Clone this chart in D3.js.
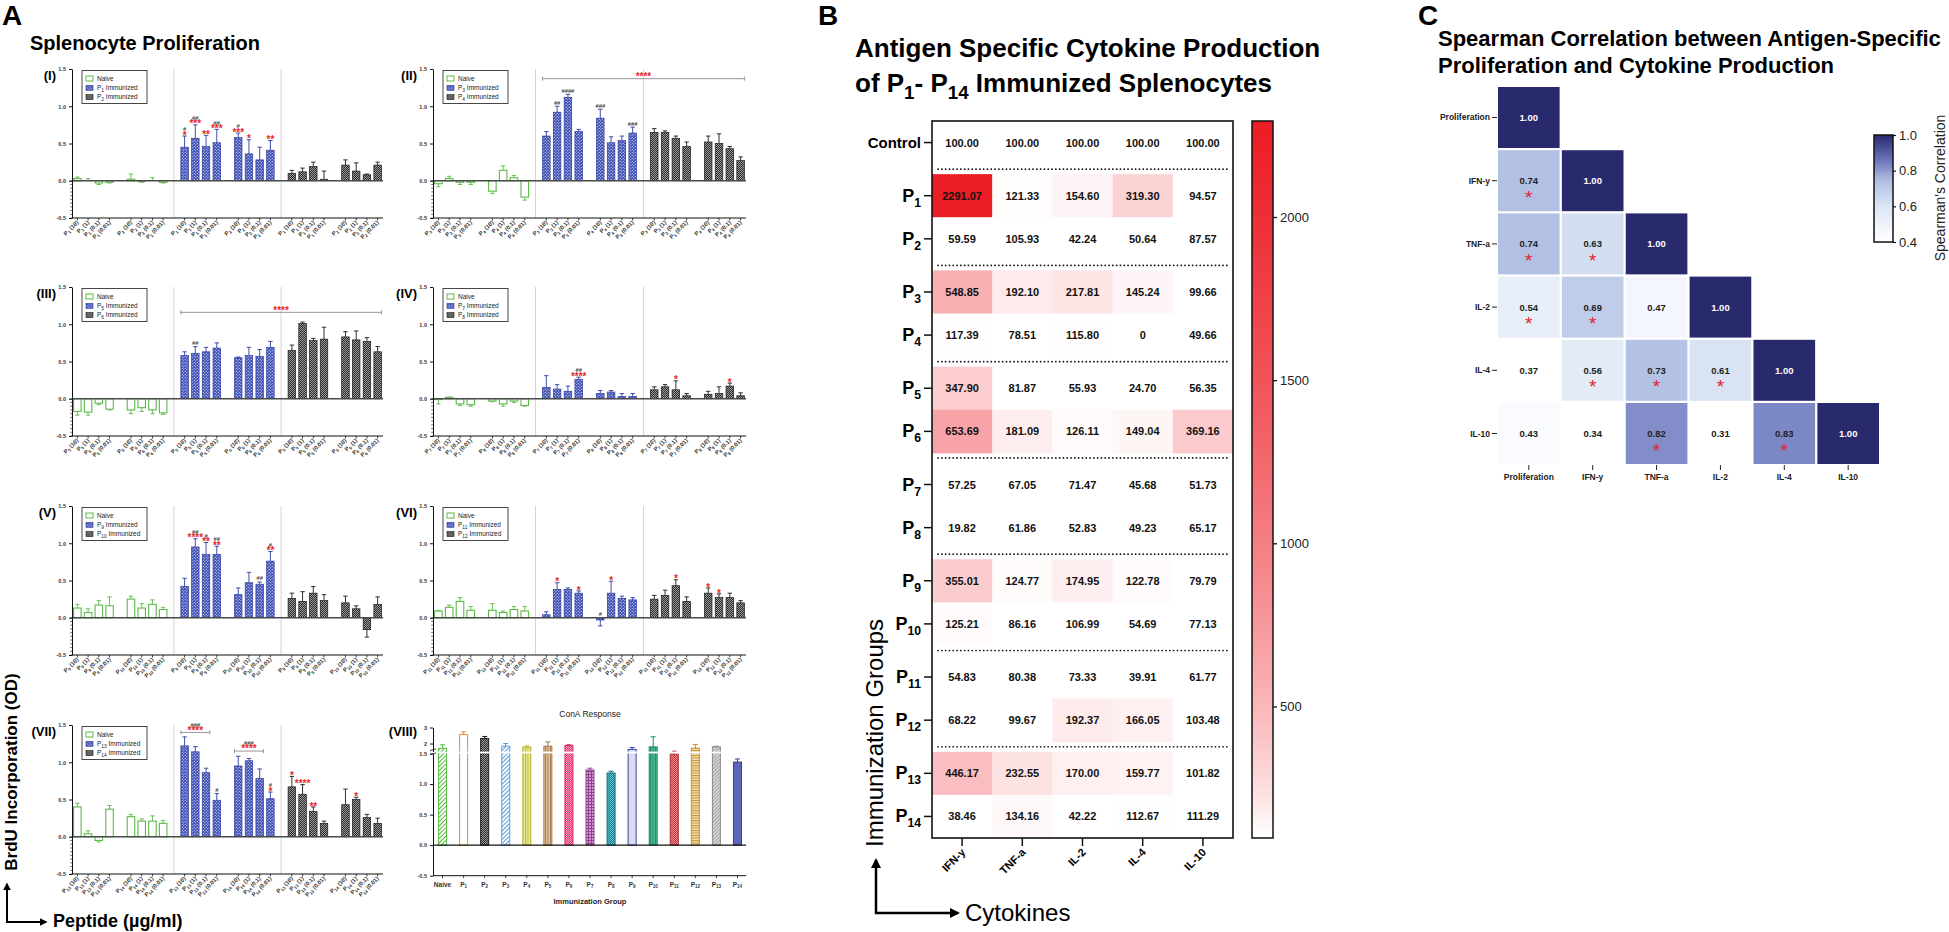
<!DOCTYPE html>
<html>
<head>
<meta charset="utf-8">
<script src="https://cdn.jsdelivr.net/npm/d3@7/dist/d3.min.js"></script>
<style>
html,body{margin:0;padding:0;background:#fff;}
svg{display:block;}
text{font-family:"Liberation Sans",Arial,Helvetica,sans-serif;}
</style>
</head>
<body>
<svg id="fig" width="1949" height="932" viewBox="0 0 1949 932"></svg>
<script>
// ======================= DATA =======================
// Panel A : splenocyte proliferation (BrdU OD). Each panel: 24 bars =
// [Naive: Pa(10,1,0.1,0.01), Pb(...)] [Pa immunized: ...] [Pb immunized: ...]
const dosesA = ["10", "1", "0.1", "0.01"];
const yTicksA = [1.5, 1.0, 0.5, 0.0, -0.5];
const numeralsA = ["(I)", "(II)", "(III)", "(IV)", "(V)", "(VI)", "(VII)", "(VIII)"];
const peptidePairs = [[1, 2], [3, 4], [5, 6], [7, 8], [9, 10], [11, 12], [13, 14]];

const meanI   = [0.03,0.00,-0.03,-0.02, 0.02,-0.01,0.00,-0.02, 0.45,0.57,0.46,0.51, 0.58,0.36,0.28,0.41, 0.10,0.12,0.19,0.02, 0.21,0.13,0.08,0.21];
const tipI    = [0.05,0.03,-0.05,-0.03, 0.09,-0.02,0.04,-0.03, 0.60,0.75,0.61,0.69, 0.64,0.55,0.45,0.54, 0.14,0.17,0.25,0.13, 0.28,0.24,0.09,0.25];
const meanII  = [-0.04,0.03,-0.02,-0.02, -0.14,0.14,0.04,-0.22, 0.60,0.92,1.12,0.66, 0.84,0.51,0.54,0.64, 0.65,0.65,0.57,0.46, 0.52,0.50,0.43,0.27];
const tipII   = [-0.08,0.06,-0.05,-0.05, -0.17,0.20,0.07,-0.26, 0.66,1.00,1.16,0.69, 0.96,0.59,0.60,0.72, 0.70,0.67,0.60,0.52, 0.60,0.63,0.46,0.32];
const meanIII = [-0.17,-0.18,-0.06,-0.14, -0.15,-0.12,-0.15,-0.19, 0.58,0.61,0.63,0.68, 0.55,0.58,0.57,0.69, 0.65,1.01,0.78,0.80, 0.83,0.79,0.77,0.63];
const tipIII  = [-0.22,-0.22,-0.08,-0.15, -0.20,-0.17,-0.20,-0.21, 0.63,0.70,0.69,0.75, 0.56,0.69,0.66,0.77, 0.72,1.03,0.81,0.96, 0.90,0.91,0.82,0.70];
const meanIV  = [-0.01,0.02,-0.07,-0.08, -0.03,-0.07,-0.03,-0.09, 0.15,0.13,0.10,0.26, 0.07,0.09,0.03,0.03, 0.12,0.16,0.12,0.04, 0.06,0.07,0.17,0.04];
const tipIV   = [-0.07,0.02,-0.09,-0.10, -0.04,-0.10,-0.05,-0.10, 0.31,0.19,0.17,0.29, 0.11,0.11,0.07,0.07, 0.16,0.19,0.24,0.07, 0.10,0.16,0.21,0.08];
const meanV   = [0.13,0.07,0.17,0.16, 0.25,0.13,0.18,0.11, 0.42,0.95,0.85,0.85, 0.31,0.47,0.45,0.76, 0.26,0.22,0.33,0.23, 0.20,0.12,-0.16,0.18];
const tipV    = [0.18,0.12,0.23,0.28, 0.29,0.19,0.24,0.14, 0.53,1.06,1.01,0.96, 0.40,0.61,0.48,0.89, 0.33,0.35,0.42,0.31, 0.29,0.16,-0.26,0.28];
const meanVI  = [0.09,0.14,0.22,0.10, 0.10,0.07,0.11,0.09, 0.04,0.38,0.38,0.33, -0.03,0.33,0.26,0.24, 0.25,0.30,0.43,0.22, 0.33,0.27,0.27,0.20];
const tipVI   = [0.10,0.17,0.27,0.15, 0.19,0.09,0.15,0.15, 0.08,0.47,0.40,0.36, -0.11,0.49,0.29,0.27, 0.30,0.37,0.51,0.28, 0.40,0.32,0.33,0.23];
const meanVII = [0.40,0.04,-0.05,0.37, 0.27,0.21,0.21,0.18, 1.22,1.14,0.86,0.49, 0.95,1.02,0.78,0.51, 0.67,0.57,0.34,0.18, 0.43,0.50,0.26,0.18];
const tipVII  = [0.45,0.08,-0.07,0.42, 0.30,0.24,0.28,0.22, 1.34,1.21,0.92,0.58, 1.08,1.05,0.91,0.60, 0.81,0.70,0.40,0.21, 0.64,0.53,0.30,0.25];

// significance marks: [bar index, "#" marks, "*" marks]
const annotI   = [[8,"#","*"],[9,"##","***"],[10,"","**"],[11,"##","***"],[12,"#","***"],[13,"","*"],[15,"","**"]];
const annotII  = [[9,"##",""],[10,"####",""],[12,"###",""],[15,"###",""]];
const annotIII = [[9,"##",""]];
const annotIV  = [[11,"##","****"],[18,"","*"],[22,"","*"]];
const annotV   = [[9,"##","****"],[10,"#","**"],[11,"##","**"],[14,"##",""],[15,"#","**"]];
const annotVI  = [[9,"","*"],[11,"","*"],[12,"#",""],[13,"","*"],[18,"","*"],[20,"","*"],[21,"","*"]];
const annotVII = [[11,"#",""],[15,"#","*"],[16,"","*"],[17,"","****"],[18,"","**"],[21,"","*"]];
// brackets: [from bar, to bar, y value, "#" marks, "*" marks]
const bracketsII  = [[8, 23, 1.37, "", "****"]];
const bracketsIII = [[8, 23, 1.16, "", "****"]];
const bracketsVII = [[8, 10, 1.40, "###", "****"], [12, 14, 1.15, "###", "****"]];

// Panel A (VIII): ConA response
const conaGroups = ["Naive","P1","P2","P3","P4","P5","P6","P7","P8","P9","P10","P11","P12","P13","P14"];
const conaMean = [1.70, 2.56, 2.31, 1.83, 1.77, 1.83, 1.88, 1.23, 1.18, 1.63, 1.79, 1.49, 1.71, 1.79, 1.36];
const conaTip  = [1.92, 2.73, 2.44, 2.00, 1.85, 2.10, 1.92, 1.26, 1.21, 1.75, 2.42, 1.52, 1.94, 1.83, 1.41];
const conaTicksLow = [-0.5, 0.0, 0.5, 1.0, 1.5];
const conaTicksHigh = [2, 3];

// Panel B : cytokine production heat map (% of control)
const cytokines = ["IFN-y", "TNF-a", "IL-2", "IL-4", "IL-10"];
const immGroups = ["Control","P1","P2","P3","P4","P5","P6","P7","P8","P9","P10","P11","P12","P13","P14"];
const ifnY = [100.00, 2291.07, 59.59, 548.85, 117.39, 347.90, 653.69, 57.25, 19.82, 355.01, 125.21, 54.83, 68.22, 446.17, 38.46];
const tnfA = [100.00, 121.33, 105.93, 192.10, 78.51, 81.87, 181.09, 67.05, 61.86, 124.77, 86.16, 80.38, 99.67, 232.55, 134.16];
const il2  = [100.00, 154.60, 42.24, 217.81, 115.80, 55.93, 126.11, 71.47, 52.83, 174.95, 106.99, 73.33, 192.37, 170.00, 42.22];
const il4  = [100.00, 319.30, 50.64, 145.24, 0, 24.70, 149.04, 45.68, 49.23, 122.78, 54.69, 39.91, 166.05, 159.77, 112.67];
const il10 = [100.00, 94.57, 87.57, 99.66, 49.66, 56.35, 369.16, 51.73, 65.17, 79.79, 77.13, 61.77, 103.48, 101.82, 111.29];
const heatTicks = [500, 1000, 1500, 2000];

// Panel C : Spearman correlation (lower triangle)
const corrVars = ["Proliferation", "IFN-y", "TNF-a", "IL-2", "IL-4", "IL-10"];
const corrProliferation = [1.00];
const corrIFNy  = [0.74, 1.00];
const corrTNFa  = [0.74, 0.63, 1.00];
const corrIL2   = [0.54, 0.69, 0.47, 1.00];
const corrIL4   = [0.37, 0.56, 0.73, 0.61, 1.00];
const corrIL10  = [0.43, 0.34, 0.82, 0.31, 0.83, 1.00];
const corrSignificant = [[1,0],[2,0],[2,1],[3,0],[3,1],[4,1],[4,2],[4,3],[5,2],[5,4]];
const corrTicks = [0.4, 0.6, 0.8, 1.0];

// ======================= DRAWING =======================
const svg = d3.select("#fig");
const defs = svg.append("defs");

function makePattern(id, w, h, bg, draw, transform) {
  const p = defs.append("pattern").attr("id", id).attr("patternUnits", "userSpaceOnUse")
    .attr("width", w).attr("height", h);
  if (transform) p.attr("patternTransform", transform);
  p.append("rect").attr("width", w).attr("height", h).attr("fill", bg);
  if (draw) draw(p);
}
function dots(p, col, r) {
  p.append("circle").attr("cx", 0.75).attr("cy", 0.75).attr("r", r).attr("fill", col);
  p.append("circle").attr("cx", 2.25).attr("cy", 2.25).attr("r", r).attr("fill", col);
}
function checker(id, bg, fg) {
  makePattern(id, 2, 2, bg, p => {
    p.append("rect").attr("width", 1).attr("height", 1).attr("fill", fg);
    p.append("rect").attr("x", 1).attr("y", 1).attr("width", 1).attr("height", 1).attr("fill", fg);
  });
}
function hatch(id, bg, fg, size, angle, sw) {
  makePattern(id, size, size, bg, p => {
    p.append("line").attr("x1", 0.5).attr("y1", 0).attr("x2", 0.5).attr("y2", size)
      .attr("stroke", fg).attr("stroke-width", sw);
  }, `rotate(${angle})`);
}
makePattern("dotBlue", 3, 3, "#3a4cb2", p => dots(p, "#ffffff", 0.62));
checker("checkGray", "#2a2a2a", "#9c9c9c");
hatch("hGreen", "#ffffff", "#5cb947", 3, 45, 1.1);
hatch("hBlue", "#ffffff", "#5aa0dc", 3, 45, 1.1);
hatch("vYellow", "#eeec9e", "#b9b52c", 2.5, 0, 1);
hatch("vTan", "#e0c8a4", "#a37a4c", 2.5, 0, 1);
checker("ckPink", "#e5336d", "#f6a2bf");
makePattern("gridPurple", 3, 3, "#cf9ccf", p => {
  p.append("path").attr("d", "M0,0.5H3M0.5,0V3").attr("stroke", "#8f3f8f").attr("stroke-width", 1);
});
checker("ckTeal", "#157f8f", "#66c3cf");
hatch("vGreen", "#4cbd98", "#1e8c68", 2.5, 0, 1);
checker("ckRed", "#c4323c", "#ef9090");
hatch("hTan", "#f4e0b6", "#c98f2c", 2.5, 90, 1);
hatch("hGray", "#dadada", "#a0a0a0", 2.5, 45, 1);

function rich(t, str, subScale, shiftPx) {
  const fs = parseFloat(t.attr("font-size"));
  const parts = str.split(/_\{([^}]*)\}/);
  let cur = 0;
  parts.forEach((s, i) => {
    if (s === "") return;
    const isSub = i % 2 === 1;
    const target = isSub ? shiftPx : 0;
    const ts = t.append("tspan").text(s);
    if (target - cur !== 0) ts.attr("dy", target - cur);
    cur = target;
    if (isSub) ts.attr("font-size", fs * subScale);
  });
  return t;
}
function txt(parent, x, y, s, size, opts = {}) {
  const t = parent.append("text").attr("x", x).attr("y", y).attr("font-size", size)
    .attr("font-weight", opts.bold ? "bold" : "normal").attr("fill", opts.fill || "#000")
    .attr("text-anchor", opts.anchor || "start");
  if (opts.transform) t.attr("transform", opts.transform);
  if (opts.sub) rich(t, s, opts.subScale || 0.7, opts.shift || size * 0.3);
  else t.text(s);
  return t;
}

defs.append("marker").attr("id", "arrowHead").attr("viewBox", "0 0 10 10").attr("refX", 8).attr("refY", 5)
  .attr("markerWidth", 4).attr("markerHeight", 4).attr("orient", "auto")
  .append("path").attr("d", "M0,0L10,5L0,10Z").attr("fill", "#000");

// ================= PANEL A =================
txt(svg, 2, 25, "A", 28, { bold: true });
txt(svg, 30, 50, "Splenocyte Proliferation", 20, { bold: true });

const rowTops = [69, 287, 506, 725];
const colSpan = [[72, 383], [433, 746]];
const plotH = 149;
const barStyle = [
  { fill: "#ffffff", stroke: "#5cb947", sw: 1.1, err: "#5cb947" },
  { fill: "url(#dotBlue)", stroke: "#2b3b9e", sw: 0.7, err: "#2b3b9e" },
  { fill: "url(#checkGray)", stroke: "#1a1a1a", sw: 0.7, err: "#1a1a1a" }
];

const panelsA = [
  { mean: meanI, tip: tipI, annot: annotI, br: [] },
  { mean: meanII, tip: tipII, annot: annotII, br: bracketsII },
  { mean: meanIII, tip: tipIII, annot: annotIII, br: bracketsIII },
  { mean: meanIV, tip: tipIV, annot: annotIV, br: [] },
  { mean: meanV, tip: tipV, annot: annotV, br: [] },
  { mean: meanVI, tip: tipVI, annot: annotVI, br: [] },
  { mean: meanVII, tip: tipVII, annot: annotVII, br: bracketsVII }
];

function styleAxis(ax, size) {
  ax.attr("font-family", null).attr("font-size", null);
  ax.selectAll("text").attr("font-size", size).attr("font-weight", "bold").attr("fill", "#333");
  ax.selectAll("line").attr("stroke", "#111");
  ax.select(".domain").attr("stroke", "#111");
}

panelsA.forEach((P, k) => {
  const row = Math.floor(k / 2), col = k % 2;
  const top = rowTops[row], bottom = top + plotH;
  const [x0, x1] = colSpan[col];
  const peps = peptidePairs[k];
  const g = svg.append("g");
  const x = d3.scaleBand().domain(d3.range(29)).range([x0, x1]).paddingInner(0.3).paddingOuter(0.15);
  const y = d3.scaleLinear().domain([-0.5, 1.5]).range([bottom, top]);
  const slot = i => Math.floor(i / 8) * 10 + (i % 8 < 4 ? i % 8 : i % 8 + 1);
  const cx = i => x(slot(i)) + x.bandwidth() / 2;
  const step = x.step();

  [9, 19].forEach(s => g.append("line").attr("x1", x(s) + x.bandwidth() / 2).attr("x2", x(s) + x.bandwidth() / 2)
    .attr("y1", top).attr("y2", bottom).attr("stroke", "#d4d4d4").attr("stroke-width", 1));

  const bars = d3.range(24).map(i => ({ i, g: Math.floor(i / 8), v: P.mean[i], t: P.tip[i] }));
  g.selectAll("path.err").data(bars).join("path").attr("class", "err")
    .attr("d", d => { const c = cx(d.i), ya = y(d.v), yb = y(d.t); return `M${c},${ya}V${yb}M${c - 2.2},${yb}H${c + 2.2}`; })
    .attr("stroke", d => barStyle[d.g].err).attr("stroke-width", 0.9).attr("fill", "none");
  g.selectAll("rect.bar").data(bars).join("rect").attr("class", "bar")
    .attr("x", d => x(slot(d.i))).attr("width", x.bandwidth())
    .attr("y", d => Math.min(y(d.v), y(0))).attr("height", d => Math.abs(y(d.v) - y(0)))
    .attr("fill", d => barStyle[d.g].fill).attr("stroke", d => barStyle[d.g].stroke)
    .attr("stroke-width", d => barStyle[d.g].sw);

  g.append("line").attr("x1", x0).attr("x2", x1).attr("y1", y(0)).attr("y2", y(0))
    .attr("stroke", "#4a4a4a").attr("stroke-width", 1.3);

  const ax = g.append("g").attr("transform", `translate(${x0},0)`)
    .call(d3.axisLeft(y).tickValues(yTicksA).tickSize(3).tickSizeOuter(0).tickFormat(v => v.toFixed(1)));
  styleAxis(ax, 5.5);
  d3.range(-0.5, 0.001, 0.05).forEach(v => g.append("line").attr("x1", x0 - 1.8).attr("x2", x0)
    .attr("y1", y(v)).attr("y2", y(v)).attr("stroke", "#111").attr("stroke-width", 0.6));

  g.append("line").attr("x1", x0).attr("x2", x1).attr("y1", bottom).attr("y2", bottom)
    .attr("stroke", "#111").attr("stroke-width", 1);
  bars.forEach(d => {
    g.append("line").attr("x1", cx(d.i)).attr("x2", cx(d.i)).attr("y1", bottom).attr("y2", bottom + 2.5)
      .attr("stroke", "#111").attr("stroke-width", 0.8);
    const pep = (d.i % 8 < 4) ? peps[0] : peps[1];
    txt(g, 0, 0, `P_{${pep}} (${dosesA[d.i % 4]})`, 5.8, {
      bold: true, fill: "#333", anchor: "end", sub: true, subScale: 0.75, shift: 1.3,
      transform: `translate(${cx(d.i) + 1.5},${bottom + 5}) rotate(-45)`
    });
  });

  P.annot.forEach(([i, hs, st]) => {
    const c = cx(i);
    const topV = Math.max(P.mean[i], P.tip[i], 0);
    let yb = y(topV);
    if (st) {
      txt(g, c, yb + 2.6, st, 10, { bold: true, fill: "#e8262a", anchor: "middle" });
      yb -= 4.8;
    } else yb -= 1.5;
    if (hs) txt(g, c, yb, hs, 5.8, { bold: true, fill: "#444", anchor: "middle" });
  });

  P.br.forEach(([a, b, v, hs, st]) => {
    const xa = cx(a) - 0.35 * step, xb = cx(b) + 0.35 * step, yy = y(v);
    g.append("path").attr("d", `M${xa},${yy - 2}V${yy + 2}M${xa},${yy}H${xb}M${xb},${yy - 2}V${yy + 2}`)
      .attr("stroke", "#8a8a8a").attr("stroke-width", 0.9).attr("fill", "none");
    const mid = (xa + xb) / 2;
    txt(g, mid, yy + 1.2, st, 10, { bold: true, fill: "#e8262a", anchor: "middle" });
    if (hs) txt(g, mid, yy - 5.8, hs, 5.8, { bold: true, fill: "#444", anchor: "middle" });
  });

  const lg = g.append("g").attr("transform", `translate(${x0 + 10},${top + 1.5})`);
  lg.append("rect").attr("width", 65).attr("height", 33).attr("fill", "#fff").attr("stroke", "#333").attr("stroke-width", 0.9);
  ["Naive", `P_{${peps[0]}} Immunized`, `P_{${peps[1]}} Immunized`].forEach((s, j) => {
    const yy = 8 + j * 9.3;
    lg.append("rect").attr("x", 4).attr("y", yy - 2.5).attr("width", 7).attr("height", 5)
      .attr("fill", barStyle[j].fill).attr("stroke", barStyle[j].stroke).attr("stroke-width", j === 0 ? 1 : 0.6);
    txt(lg, 15, yy + 2.3, s, 6.5, { fill: "#222", sub: true, subScale: 0.75, shift: 1.5 });
  });

  txt(svg, x0 - 16, top + 11, numeralsA[k], 13, { bold: true, anchor: "end" });
});

// ---- (VIII) ConA response ----
(function () {
  const top = rowTops[3];
  const [x0, x1] = colSpan[1];
  const g = svg.append("g");
  const x = d3.scaleBand().domain(conaGroups).range([432, 748]).paddingInner(0.62).paddingOuter(0.31);
  const lower = d3.scaleLinear().domain([-0.5, 1.5]).range([875.7, 753.5]);
  const upper = d3.scaleLinear().domain([1.5, 3]).range([751.5, 727.5]);
  const yv = v => v <= 1.5 ? lower(v) : upper(v);
  const conaStyle = [
    { fill: "url(#hGreen)", stroke: "#5cb947" }, { fill: "#ffffff", stroke: "#f28c28" },
    { fill: "url(#checkGray)", stroke: "#1a1a1a" }, { fill: "url(#hBlue)", stroke: "#5aa0dc" },
    { fill: "url(#vYellow)", stroke: "#b9b52c" }, { fill: "url(#vTan)", stroke: "#a37a4c" },
    { fill: "url(#ckPink)", stroke: "#d42a62" }, { fill: "url(#gridPurple)", stroke: "#8f3f8f" },
    { fill: "url(#ckTeal)", stroke: "#136f7d" }, { fill: "#d9dbf1", stroke: "#3a45a0" },
    { fill: "url(#vGreen)", stroke: "#1e8c68" }, { fill: "url(#ckRed)", stroke: "#a82a32" },
    { fill: "url(#hTan)", stroke: "#c98f2c" }, { fill: "url(#hGray)", stroke: "#8a8a8a" },
    { fill: "#5c66b8", stroke: "#3a4090" }
  ];
  const data = conaGroups.map((n, i) => ({ n, i, v: conaMean[i], t: conaTip[i] }));
  g.selectAll("path.err").data(data).join("path")
    .attr("d", d => { const c = x(d.n) + x.bandwidth() / 2, yb = yv(d.t); return `M${c},${yv(d.v)}V${yb}M${c - 2.5},${yb}H${c + 2.5}`; })
    .attr("stroke", d => conaStyle[d.i].stroke).attr("stroke-width", 1).attr("fill", "none");
  g.selectAll("rect.bar").data(data).join("rect")
    .attr("x", d => x(d.n)).attr("width", x.bandwidth())
    .attr("y", d => yv(d.v)).attr("height", d => lower(0) - yv(d.v))
    .attr("fill", d => conaStyle[d.i].fill).attr("stroke", d => conaStyle[d.i].stroke).attr("stroke-width", 1);
  g.append("rect").attr("x", x0 + 1).attr("width", x1 - x0).attr("y", 751.6).attr("height", 1.8).attr("fill", "#fff");
  g.append("line").attr("x1", x0).attr("x2", x1).attr("y1", lower(0)).attr("y2", lower(0)).attr("stroke", "#111").attr("stroke-width", 1.3);
  const axL = g.append("g").attr("transform", `translate(${x0},0)`)
    .call(d3.axisLeft(lower).tickValues(conaTicksLow).tickSize(3).tickSizeOuter(0).tickFormat(v => v.toFixed(1)));
  styleAxis(axL, 5.5);
  const axU = g.append("g").attr("transform", `translate(${x0},0)`)
    .call(d3.axisLeft(upper).tickValues(conaTicksHigh).tickSize(3).tickSizeOuter(0).tickFormat(d3.format("d")));
  styleAxis(axU, 5.5);
  g.append("path").attr("d", `M${x0 - 3},${750.5}L${x0 + 3},${749}M${x0 - 3},${754.5}L${x0 + 3},${753}`)
    .attr("stroke", "#111").attr("stroke-width", 0.8);
  g.append("line").attr("x1", x0).attr("x2", x1).attr("y1", lower(-0.5)).attr("y2", lower(-0.5)).attr("stroke", "#111").attr("stroke-width", 1);
  data.forEach(d => {
    const c = x(d.n) + x.bandwidth() / 2;
    g.append("line").attr("x1", c).attr("x2", c).attr("y1", lower(-0.5)).attr("y2", lower(-0.5) + 2.5).attr("stroke", "#111").attr("stroke-width", 0.8);
    const lab = d.n === "Naive" ? "Naive" : `P_{${d.n.slice(1)}}`;
    txt(g, c, lower(-0.5) + 11, lab, 6.5, { bold: true, fill: "#333", anchor: "middle", sub: true, subScale: 0.7, shift: 1.6 });
  });
  txt(g, 590, 904, "Immunization Group", 7.5, { bold: true, fill: "#222", anchor: "middle" });
  txt(g, 590, 717, "ConA Response", 8.5, { fill: "#222", anchor: "middle" });
  txt(svg, x0 - 16, top + 11, numeralsA[7], 13, { bold: true, anchor: "end" });
})();

txt(svg, 0, 0, "BrdU Incorporation (OD)", 17, { bold: true, anchor: "middle", transform: "translate(17,772) rotate(-90)" });
svg.append("path").attr("d", "M7,922V884").attr("stroke", "#000").attr("stroke-width", 2).attr("marker-end", "url(#arrowHead)");
svg.append("path").attr("d", "M6,922H46").attr("stroke", "#000").attr("stroke-width", 2).attr("marker-end", "url(#arrowHead)");
txt(svg, 53, 927, "Peptide (µg/ml)", 18, { bold: true });

// ================= PANEL B =================
txt(svg, 818, 25, "B", 28, { bold: true });
txt(svg, 855, 57, "Antigen Specific Cytokine Production", 26, { bold: true });
txt(svg, 855, 92, "of P_{1}- P_{14} Immunized Splenocytes", 26, { bold: true, sub: true, subScale: 0.72, shift: 7 });

(function () {
  const gB = svg.append("g");
  const cytoValues = [ifnY, tnfA, il2, il4, il10];
  const hx = d3.scaleBand().domain(cytokines).range([932, 1233]);
  const gapU = 10 / 43;
  const hyU = d3.scaleLinear().domain([0, immGroups.length + 7 * gapU]).range([121, 838]);
  const rowStart = r => r + (r === 0 ? 0 : 1 + Math.floor((r - 1) / 2)) * gapU;
  const rowY = r => hyU(rowStart(r));
  const rowH = hyU(1) - hyU(0);
  const tScale = d3.scalePow().exponent(0.5).domain([110, 2291.07]).range([0, 1]).clamp(true);
  const heatColor = v => d3.interpolateRgb("#ffffff", "#ec1c24")(tScale(v));

  const cells = [];
  cytoValues.forEach((arr, c) => arr.forEach((v, r) => cells.push({ c: cytokines[c], r, v })));
  gB.selectAll("rect.cell").data(cells).join("rect")
    .attr("x", d => hx(d.c)).attr("y", d => rowY(d.r)).attr("width", hx.bandwidth() + 0.5).attr("height", rowH + 0.5)
    .attr("fill", d => heatColor(d.v));
  gB.selectAll("text.val").data(cells).join("text")
    .attr("x", d => hx(d.c) + hx.bandwidth() / 2).attr("y", d => rowY(d.r) + rowH / 2 + 4)
    .attr("text-anchor", "middle").attr("font-size", 11).attr("font-weight", "bold").attr("fill", "#111")
    .text(d => d.v === 0 ? "0" : d.v.toFixed(2));
  for (let k = 0; k < 7; k++) {
    const yy = hyU(rowStart(2 * k) + 1 + gapU / 2);
    gB.append("line").attr("x1", 938).attr("x2", 1229).attr("y1", yy).attr("y2", yy)
      .attr("stroke", "#111").attr("stroke-width", 1.7).attr("stroke-dasharray", "0.1 3.7").attr("stroke-linecap", "round");
  }
  gB.append("rect").attr("x", 932).attr("y", 121).attr("width", 301).attr("height", 717)
    .attr("fill", "none").attr("stroke", "#111").attr("stroke-width", 1.6);
  immGroups.forEach((n, r) => {
    const yc = rowY(r) + rowH / 2;
    gB.append("line").attr("x1", 924).attr("x2", 932).attr("y1", yc).attr("y2", yc).attr("stroke", "#111").attr("stroke-width", 1.5);
    if (n === "Control") txt(gB, 921, yc + 5.5, "Control", 15, { bold: true, anchor: "end" });
    else txt(gB, 921, yc + 6, `P_{${n.slice(1)}}`, 18, { bold: true, anchor: "end", sub: true, subScale: 0.68, shift: 5 });
  });
  cytokines.forEach(c => {
    const xc = hx(c) + hx.bandwidth() / 2;
    gB.append("line").attr("x1", xc).attr("x2", xc).attr("y1", 838).attr("y2", 846).attr("stroke", "#111").attr("stroke-width", 1.5);
    txt(gB, 0, 0, c, 11, { bold: true, anchor: "end", transform: `translate(${xc + 4},${853}) rotate(-45)` });
  });
  const cbY = d3.scaleLinear().domain([100, 2291.07]).range([837, 122]);
  const grad = defs.append("linearGradient").attr("id", "heatGrad").attr("x1", 0).attr("y1", 1).attr("x2", 0).attr("y2", 0);
  d3.range(0, 1.0001, 0.02).forEach(f => grad.append("stop").attr("offset", f).attr("stop-color", heatColor(100 + f * 2191.07)));
  gB.append("rect").attr("x", 1252).attr("y", 121).attr("width", 21).attr("height", 717)
    .attr("fill", "url(#heatGrad)").attr("stroke", "#111").attr("stroke-width", 1.5);
  const cbAx = gB.append("g").attr("transform", "translate(1273,0)")
    .call(d3.axisRight(cbY).tickValues(heatTicks).tickSize(4).tickSizeOuter(0).tickFormat(d3.format("d")));
  cbAx.attr("font-family", null).attr("font-size", null);
  cbAx.select(".domain").remove();
  cbAx.selectAll("line").attr("stroke", "#111").attr("stroke-width", 1.3);
  cbAx.selectAll("text").attr("font-size", 13).attr("fill", "#222");

  txt(svg, 0, 0, "Immunization Groups", 24, { anchor: "start", transform: "translate(883,847) rotate(-90)" });
  svg.append("path").attr("d", "M876,914V860").attr("stroke", "#000").attr("stroke-width", 2.5).attr("marker-end", "url(#arrowHead)");
  svg.append("path").attr("d", "M875,913H958").attr("stroke", "#000").attr("stroke-width", 2.5).attr("marker-end", "url(#arrowHead)");
  txt(svg, 965, 921, "Cytokines", 24);
})();

// ================= PANEL C =================
txt(svg, 1418, 25, "C", 28, { bold: true });
txt(svg, 1438, 46, "Spearman Correlation between Antigen-Specific", 22, { bold: true });
txt(svg, 1438, 73, "Proliferation and Cytokine Production", 22, { bold: true });

(function () {
  const gC = svg.append("g");
  const corrRows = [corrProliferation, corrIFNy, corrTNFa, corrIL2, corrIL4, corrIL10];
  const xC = d3.scaleBand().domain(corrVars).range([1498, 1879]).paddingInner(0.035).paddingOuter(0);
  const yC = d3.scaleBand().domain(corrVars).range([87, 464]).paddingInner(0.035).paddingOuter(0);
  const corrColor = d3.scaleLinear().domain([0.4, 0.6, 0.75, 0.85, 1.0])
    .range(["#ffffff", "#dce6f5", "#aebde2", "#6f79be", "#29296e"]).clamp(true);
  const cells = [];
  corrRows.forEach((arr, r) => arr.forEach((v, c) => cells.push({ r, c, v })));
  const isSig = d => corrSignificant.some(([r, c]) => r === d.r && c === d.c);
  gC.selectAll("rect.cell").data(cells).join("rect")
    .attr("x", d => xC(corrVars[d.c])).attr("y", d => yC(corrVars[d.r]))
    .attr("width", xC.bandwidth()).attr("height", yC.bandwidth()).attr("fill", d => corrColor(d.v));
  gC.selectAll("text.val").data(cells).join("text")
    .attr("x", d => xC(corrVars[d.c]) + xC.bandwidth() / 2).attr("y", d => yC(corrVars[d.r]) + yC.bandwidth() / 2 + 3.5)
    .attr("text-anchor", "middle").attr("font-size", 9.5).attr("font-weight", "bold")
    .attr("fill", d => d.v >= 0.95 ? "#ffffff" : "#222").text(d => d.v.toFixed(2));
  gC.selectAll("text.sig").data(cells.filter(isSig)).join("text")
    .attr("x", d => xC(corrVars[d.c]) + xC.bandwidth() / 2).attr("y", d => yC(corrVars[d.r]) + yC.bandwidth() / 2 + 23)
    .attr("text-anchor", "middle").attr("font-size", 19).attr("fill", "#e8202a").text("*");
  corrVars.forEach(n => {
    const yc = yC(n) + yC.bandwidth() / 2;
    gC.append("line").attr("x1", 1492).attr("x2", 1497).attr("y1", yc).attr("y2", yc).attr("stroke", "#222").attr("stroke-width", 1);
    txt(gC, 1490, yc + 3, n, 8.5, { bold: true, anchor: "end", fill: "#222" });
    const xc = xC(n) + xC.bandwidth() / 2;
    gC.append("line").attr("x1", xc).attr("x2", xc).attr("y1", 465).attr("y2", 470).attr("stroke", "#222").attr("stroke-width", 1);
    txt(gC, xc, 480, n, 8.5, { bold: true, anchor: "middle", fill: "#222" });
  });
  const cb = d3.scaleLinear().domain([0.4, 1.0]).range([242, 135]);
  const grad = defs.append("linearGradient").attr("id", "corrGrad").attr("x1", 0).attr("y1", 1).attr("x2", 0).attr("y2", 0);
  d3.range(0, 1.0001, 0.05).forEach(f => grad.append("stop").attr("offset", f).attr("stop-color", corrColor(0.4 + f * 0.6)));
  gC.append("rect").attr("x", 1874).attr("y", 135).attr("width", 19).attr("height", 107)
    .attr("fill", "url(#corrGrad)").attr("stroke", "#111").attr("stroke-width", 1.5);
  const ax = gC.append("g").attr("transform", "translate(1893,0)")
    .call(d3.axisRight(cb).tickValues(corrTicks).tickSize(3).tickSizeOuter(0).tickFormat(v => v.toFixed(1)));
  ax.attr("font-family", null).attr("font-size", null);
  ax.select(".domain").remove();
  ax.selectAll("line").attr("stroke", "#111").attr("stroke-width", 1.2);
  ax.selectAll("text").attr("font-size", 13).attr("fill", "#222");
  txt(gC, 0, 0, "Spearman's Correlation", 14, { anchor: "middle", fill: "#222", transform: "translate(1945,188) rotate(-90)" });
})();
</script>
</body>
</html>
